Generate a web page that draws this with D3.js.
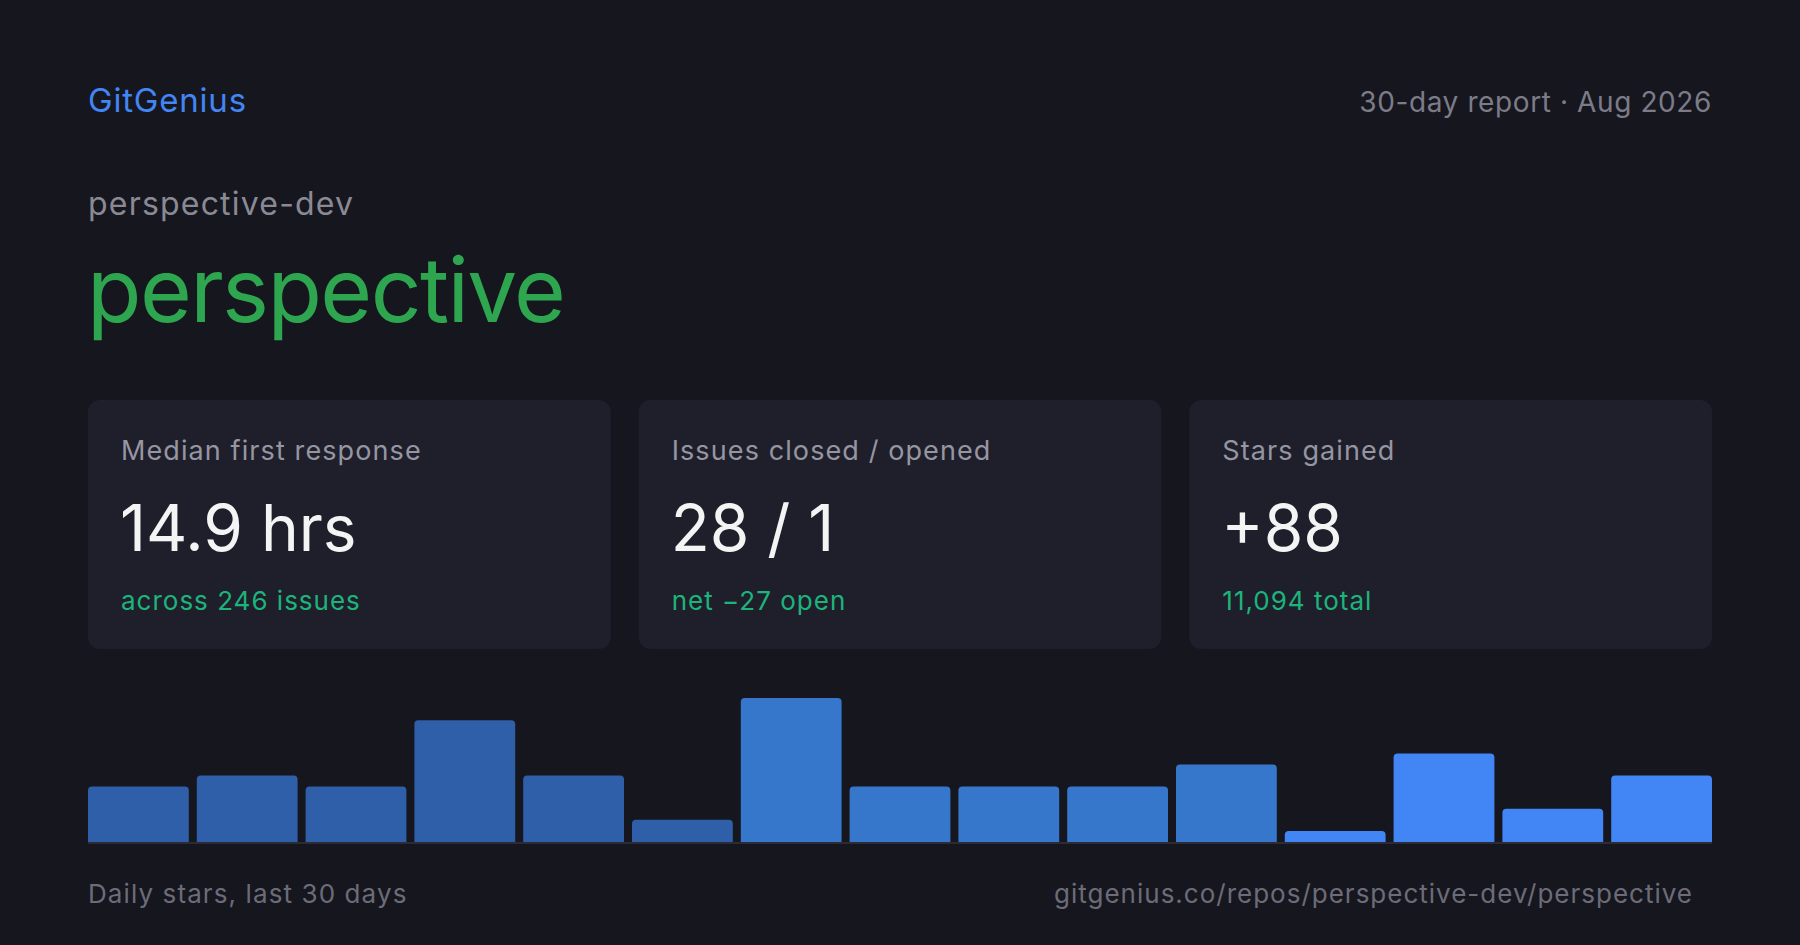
<!DOCTYPE html>
<html>
<head>
<meta charset="utf-8">
<script src="https://cdn.jsdelivr.net/npm/d3@7"></script>
<style>
  html, body { margin: 0; padding: 0; background: #16161f; }
  svg { display: block; }
  text { font-family: Inter, "Noto Sans", sans-serif; }
</style>
</head>
<body>
<svg id="chart"></svg>
<script>
// data
const brand = "GitGenius";
const period = "30-day report \u00b7 Aug 2026";
const owner = "perspective-dev";
const repo = "perspective";

const cardLabels = ["Median first response", "Issues closed / opened", "Stars gained"];
const cardValues = ["14.9 hrs", "28 / 1", "+88"];
const cardNotes = ["across 246 issues", "net \u221227 open", "11,094 total"];

// daily stars, binned in pairs of days (15 bins = 30 days)
const binIndex = d3.range(15);
const dailyStars = [5, 6, 5, 11, 6, 2, 13, 5, 5, 5, 7, 1, 8, 3, 6];

const footLeft = "Daily stars, last 30 days";
const footRight = "gitgenius.co/repos/perspective-dev/perspective";

// layout
const W = 1800, H = 945;
const pad = 88;
const inner = W - pad * 2;

const svg = d3.select("#chart")
    .attr("width", W)
    .attr("height", H);

svg.append("rect")
    .attr("width", W)
    .attr("height", H)
    .attr("fill", "#16161f");

// header
svg.append("text")
    .attr("x", pad)
    .attr("y", 112)
    .attr("fill", "#4285f4")
    .style("font-size", "33px")
    .style("letter-spacing", "0.8px")
    .text(brand);

svg.append("text")
    .attr("x", W - pad)
    .attr("y", 112)
    .attr("text-anchor", "end")
    .attr("fill", "#7c7c88")
    .style("font-size", "28px")
    .style("letter-spacing", "0.6px")
    .text(period);

svg.append("text")
    .attr("x", pad)
    .attr("y", 215)
    .attr("fill", "#8a8a95")
    .style("font-size", "32px")
    .style("letter-spacing", "1.2px")
    .text(owner);

svg.append("text")
    .attr("x", pad - 1)
    .attr("y", 322)
    .attr("fill", "#2ea64f")
    .style("font-size", "89px")
    .style("letter-spacing", "-1.6px")
    .text(repo);

// stat cards
const gap = 28;
const cardW = (inner - gap * 2) / 3;
const cardTop = 400, cardH = 249;

const cards = svg.selectAll("g.card")
    .data(cardLabels.map((l, i) => ({ label: l, value: cardValues[i], note: cardNotes[i] })))
  .enter()
  .append("g")
    .attr("class", "card")
    .attr("transform", (d, i) => `translate(${pad + i * (cardW + gap)},${cardTop})`);

cards.append("rect")
    .attr("width", cardW)
    .attr("height", cardH)
    .attr("rx", 12)
    .attr("fill", "#1f1f2b");

cards.append("text")
    .attr("x", 33)
    .attr("y", 60)
    .attr("fill", "#9696a2")
    .style("font-size", "27px")
    .style("letter-spacing", "1.1px")
    .text(d => d.label);

cards.append("text")
    .attr("x", 32)
    .attr("y", 151)
    .attr("fill", "#f4f4f4")
    .style("font-size", "64px")
    .text(d => d.value);

cards.append("text")
    .attr("x", 33)
    .attr("y", 210)
    .attr("fill", "#1db47b")
    .style("font-size", "26px")
    .style("letter-spacing", "1px")
    .text(d => d.note);

// daily stars bars
const chartTop = 698, chartBottom = 842;

const x = d3.scaleBand()
    .domain(binIndex)
    .range([pad, W - pad])
    .paddingInner(0.0735)
    .paddingOuter(0);

const y = d3.scaleLinear()
    .domain([0, d3.max(dailyStars)])
    .range([chartBottom, chartTop]);

// older bins are dimmer
const tier = i => i < 6 ? "#2e5fa8" : i < 11 ? "#3677cb" : "#4285f4";

function topRounded(x0, y0, w, h, r) {
    r = Math.min(r, h, w / 2);
    return `M${x0},${y0 + h}V${y0 + r}Q${x0},${y0} ${x0 + r},${y0}` +
           `H${x0 + w - r}Q${x0 + w},${y0} ${x0 + w},${y0 + r}V${y0 + h}Z`;
}

svg.append("g")
    .selectAll("path")
    .data(dailyStars)
  .enter()
  .append("path")
    .attr("d", (d, i) => topRounded(x(i), y(d), x.bandwidth(), chartBottom - y(d), 4))
    .attr("fill", (d, i) => tier(i));

svg.append("rect")
    .attr("x", pad)
    .attr("y", chartBottom)
    .attr("width", inner)
    .attr("height", 2)
    .attr("fill", "#2b2b37");

// footer
svg.append("text")
    .attr("x", pad)
    .attr("y", 903)
    .attr("fill", "#6c6c78")
    .style("font-size", "26px")
    .style("letter-spacing", "1.1px")
    .text(footLeft);

svg.append("text")
    .attr("x", 1693)
    .attr("y", 903)
    .attr("text-anchor", "end")
    .attr("fill", "#6c6c78")
    .style("font-size", "26px")
    .style("letter-spacing", "1px")
    .text(footRight);
</script>
</body>
</html>
